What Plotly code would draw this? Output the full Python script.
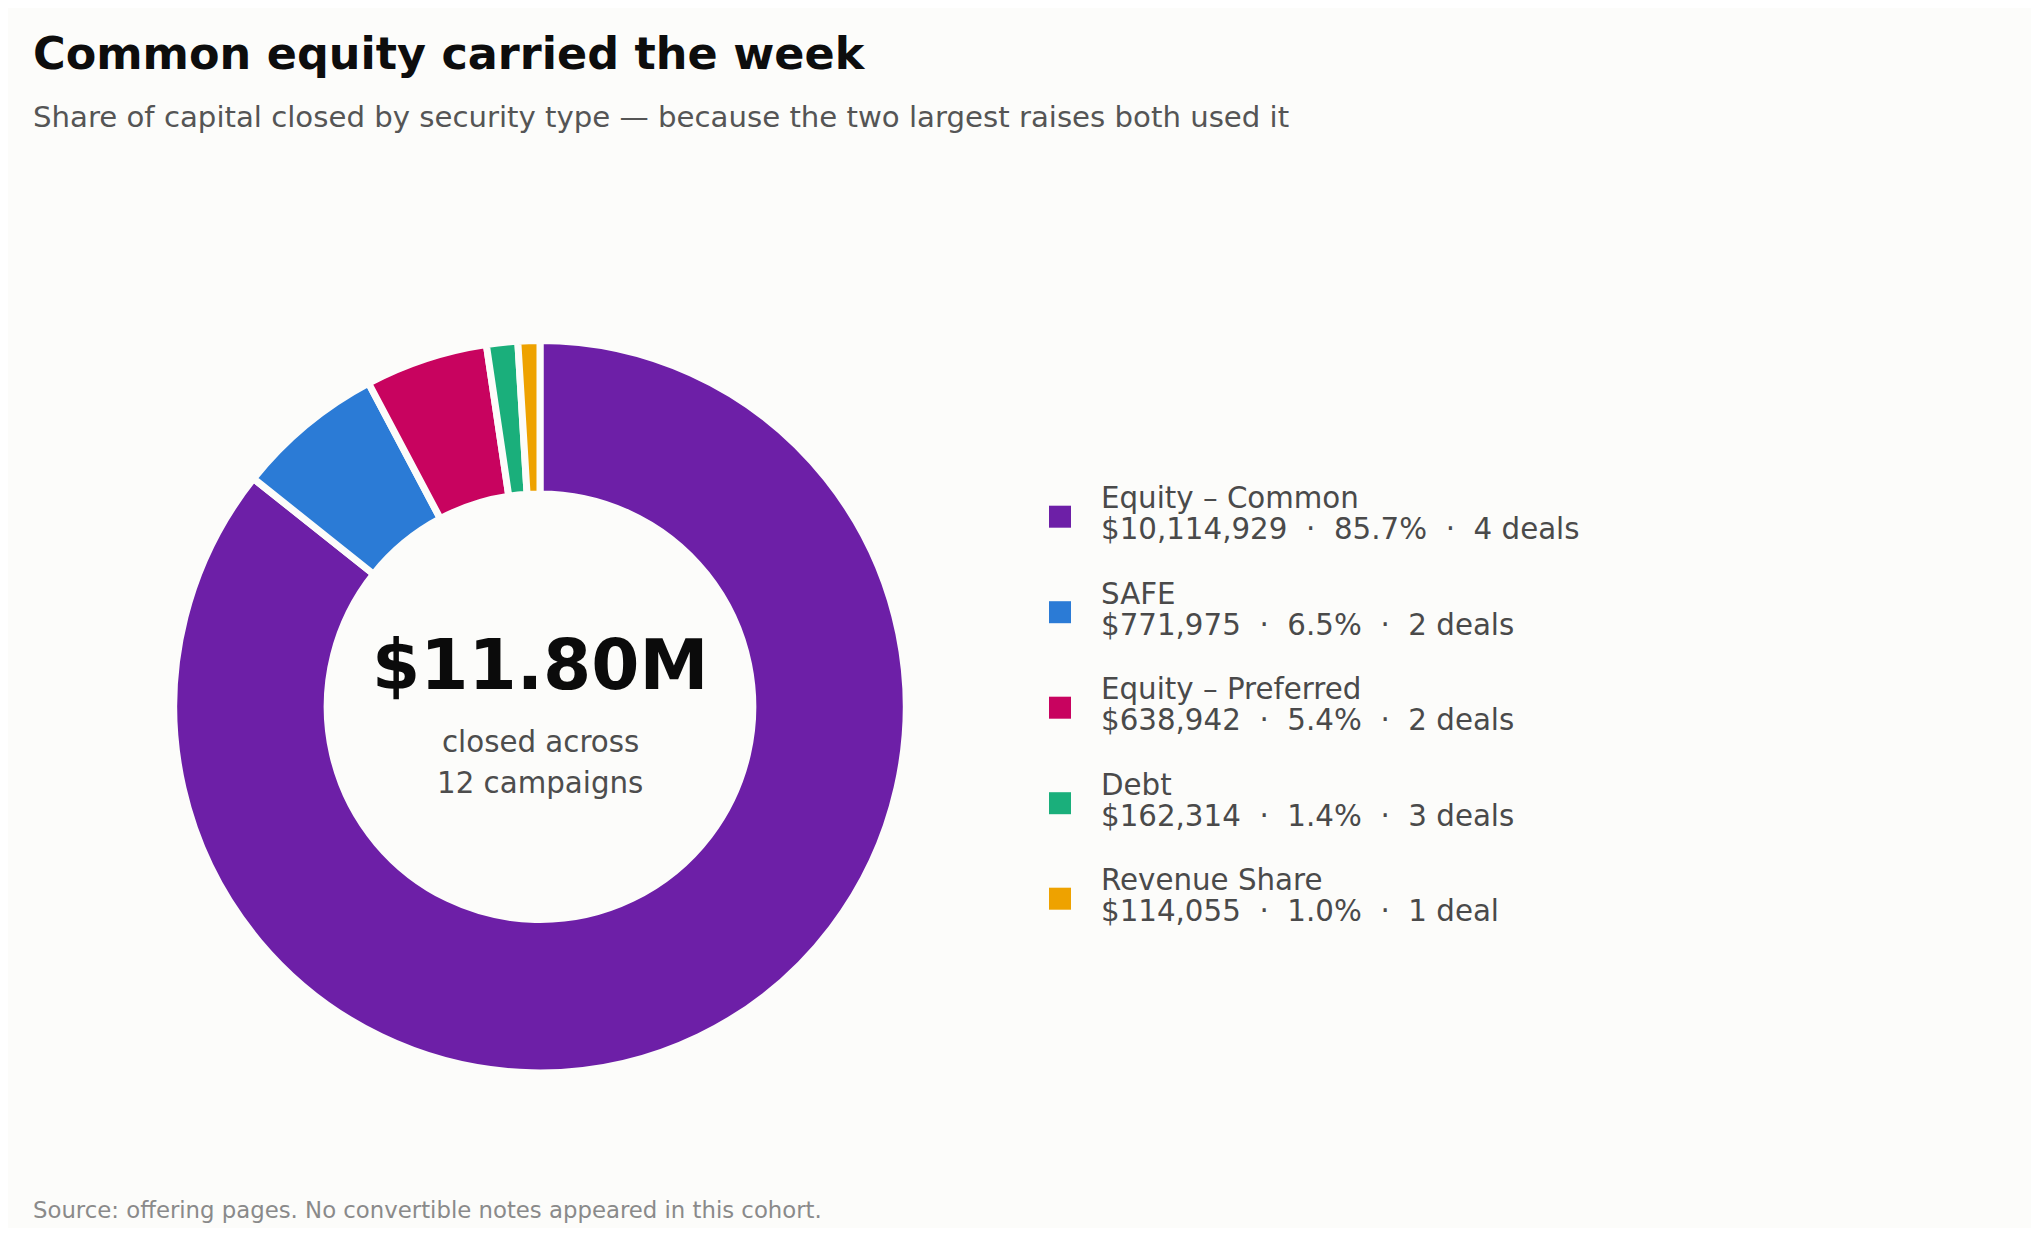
import plotly.graph_objects as go

# security types, capital closed and deal counts
types = ["Equity – Common", "SAFE", "Equity – Preferred", "Debt", "Revenue Share"]
amounts = [10114929, 771975, 638942, 162314, 114055]
deals = [4, 2, 2, 3, 1]
colors = ["#6d1fa7", "#2b7bd6", "#c8035f", "#1aaf7b", "#eea200"]

# the page body keeps an 8px margin, so the figure is sized to sit inside it
OFF = 8
W, H = 2039 - 2 * OFF, 1240 - 2 * OFF - 4
BG = "#fcfcfa"
FONT = "DejaVu Sans"


def px(x):
    return (x - OFF) / W


def py(y):
    return 1 - (y - OFF) / H


total = sum(amounts)
n_campaigns = sum(deals)
shares = [a / total * 100 for a in amounts]

fig = go.Figure()

# donut (edge stroke eats half its width on the outer and inner rims)
edge = 7
cx, cy, r = 540.0, 706.7, 362.7 + edge / 2
fig.add_trace(go.Pie(
    labels=types,
    values=amounts,
    hole=(216.3 - edge / 2) / r,
    sort=False,
    direction="clockwise",
    rotation=0,
    marker=dict(colors=colors, line=dict(color=BG, width=edge)),
    textinfo="none",
    showlegend=False,
    domain=dict(x=[px(cx - r), px(cx + r)], y=[py(cy + r), py(cy - r)]),
))

# custom legend: squares on a hidden category axis
fig.add_trace(go.Scatter(
    x=[0] * len(types),
    y=types,
    mode="markers",
    marker=dict(symbol="square", size=22, color=colors),
    cliponaxis=False,
    showlegend=False,
    hoverinfo="skip",
))

step = 95.5
first = 516.7
top = first - step / 2
bottom = top + step * len(types)

fig.update_layout(
    width=W,
    height=H,
    paper_bgcolor=BG,
    plot_bgcolor=BG,
    margin=dict(l=0, r=0, t=0, b=0),
    font=dict(family=FONT, color="#4d4d4d"),
    xaxis=dict(domain=[px(1060), 1], range=[0, 1], visible=False, fixedrange=True),
    yaxis=dict(domain=[py(bottom), py(top)], range=[len(types) - 0.5, -0.5],
               type="category", categoryorder="array", categoryarray=types,
               visible=False, fixedrange=True),
)

TXT = 29.3
ann = []
for i, (t, a, s, d) in enumerate(zip(types, amounts, shares, deals)):
    unit = "deal" if d == 1 else "deals"
    sep = "\u00a0\u00a0·\u00a0\u00a0"
    line2 = f"${a:,}{sep}{s:.1f}%{sep}{d} {unit}"
    ann.append(dict(x=0, y=i, xref="x", yref="y", text=t, showarrow=False,
                    xanchor="left", yanchor="middle", xshift=39, yshift=18.4,
                    font=dict(size=TXT, color="#4a4a4a")))
    ann.append(dict(x=0, y=i, xref="x", yref="y", text=line2, showarrow=False,
                    xanchor="left", yanchor="middle", xshift=39, yshift=-12.6,
                    font=dict(size=TXT, color="#4a4a4a")))

# centre label
ann.append(dict(x=px(cx), y=py(665), xref="paper", yref="paper",
                text=f"${total / 1e6:.2f}M", showarrow=False,
                xanchor="center", yanchor="middle",
                font=dict(size=69.3, color="#0b0b0b", weight="bold")))
ann.append(dict(x=px(cx), y=py(742.5), xref="paper", yref="paper",
                text="closed across", showarrow=False,
                xanchor="center", yanchor="middle",
                font=dict(size=TXT, color="#4d4d4d")))
ann.append(dict(x=px(cx), y=py(782.8), xref="paper", yref="paper",
                text=f"{n_campaigns} campaigns", showarrow=False,
                xanchor="center", yanchor="middle",
                font=dict(size=TXT, color="#4d4d4d")))

# title, subtitle, source
ann.append(dict(x=px(31), y=py(54), xref="paper", yref="paper",
                text="Common equity carried the week", showarrow=False,
                xanchor="left", yanchor="middle",
                font=dict(size=44.5, color="#0d0d0d", weight="bold")))
ann.append(dict(x=px(31), y=py(117.3), xref="paper", yref="paper",
                text="Share of capital closed by security type — because the two largest raises both used it",
                showarrow=False, xanchor="left", yanchor="middle",
                font=dict(size=29.2, color="#555555")))
ann.append(dict(x=px(31), y=py(1210), xref="paper", yref="paper",
                text="Source: offering pages. No convertible notes appeared in this cohort.",
                showarrow=False, xanchor="left", yanchor="middle",
                font=dict(size=22.8, color="#8a8a8a")))

fig.update_layout(annotations=ann)

fig.write_html("out.html")
